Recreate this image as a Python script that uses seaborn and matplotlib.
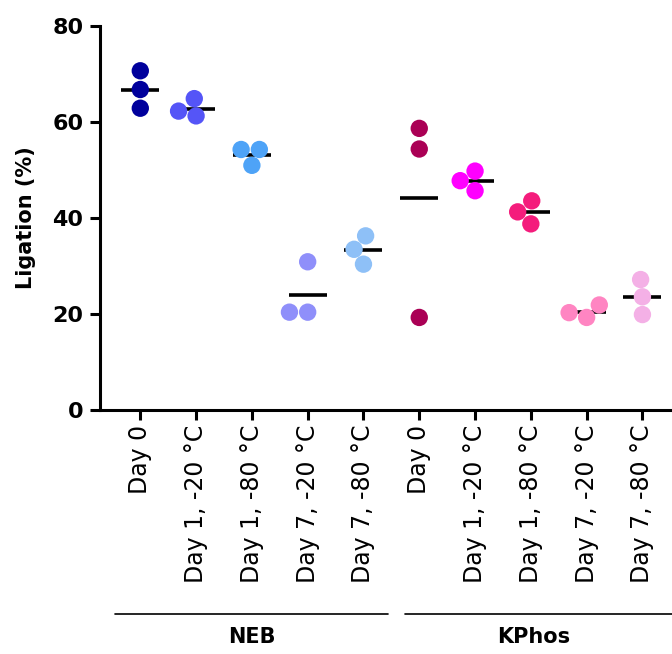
import pandas as pd
import matplotlib
matplotlib.use("Agg")
import matplotlib.pyplot as plt
import matplotlib.transforms as mtransforms
import seaborn as sns

# Conditions on the x axis (same order for both buffers)
conditions = ["Day 0", "Day 1, -20 °C", "Day 1, -80 °C", "Day 7, -20 °C", "Day 7, -80 °C"]
buffers = ["NEB", "KPhos"]

# Ligation (%) replicates
neb_values = [
    [70.7, 66.8, 62.9],
    [64.9, 61.3, 62.3],
    [54.3, 54.3, 51.0],
    [30.9, 20.4, 20.4],
    [36.3, 30.4, 33.5],
]
kphos_values = [
    [58.7, 54.4, 19.3],
    [49.8, 45.7, 47.8],
    [43.6, 38.8, 41.3],
    [21.9, 19.3, 20.3],
    [27.2, 23.6, 19.9],
]

neb_colors = ["#00009c", "#5555f7", "#4ea3f7", "#8f8ffa", "#8ec0f7"]
kphos_colors = ["#aa0055", "#ff00ff", "#f41c7c", "#ff85c2", "#f4b0e6"]

# Build long-form table
rows = []
for buf, vals in zip(buffers, [neb_values, kphos_values]):
    for cond, reps in zip(conditions, vals):
        for v in reps:
            rows.append({"group": f"{buf}|{cond}", "buffer": buf, "cond": cond, "value": v})
df = pd.DataFrame(rows)
order = [f"{b}|{c}" for b in buffers for c in conditions]
palette = dict(zip(order, neb_colors + kphos_colors))

sns.set_style("ticks")
plt.rcParams["font.family"] = ["DejaVu Sans"]
plt.rcParams.update({"text.color": "black", "axes.labelcolor": "black",
                     "xtick.color": "black", "ytick.color": "black",
                     "axes.edgecolor": "black"})

fig = plt.figure(figsize=(6.72, 6.54), dpi=100)
ax = fig.add_axes([0.149, 0.373, 0.851, 0.587])

# mean lines
sns.pointplot(data=df, x="group", y="value", order=order, estimator="mean",
              errorbar=None, color="black", marker="_", markersize=27,
              markeredgewidth=2.6, linestyle="none", ax=ax, zorder=2)

# replicate points
sns.swarmplot(data=df, x="group", y="value", order=order, hue="group",
              palette=palette, size=12.5, linewidth=0, legend=False,
              ax=ax, zorder=3)

ax.set_xlim(-0.72, 9.53)
ax.set_ylim(0, 80)
ax.set_yticks([0, 20, 40, 60, 80])
ax.set_xticks(range(len(order)))
ax.set_xticklabels([c for b in buffers for c in conditions], rotation=90, fontsize=17)
ax.tick_params(axis="y", labelsize=16, width=2.2, length=7, pad=5)
ax.tick_params(axis="x", width=2.2, length=7)
for lab in ax.get_yticklabels():
    lab.set_fontweight("bold")
ax.set_xlabel("")
ax.set_ylabel("Ligation (%)", fontsize=15, fontweight="bold", labelpad=12)

for side in ["top", "right"]:
    ax.spines[side].set_visible(False)
for side in ["left", "bottom"]:
    ax.spines[side].set_linewidth(2.2)

# group brackets under the tick labels
trans = mtransforms.blended_transform_factory(ax.transData, ax.transAxes)
spans = [(-0.45, 4.44), (4.75, 9.7)]
label_x = [2.0, 7.05]
for buf, (x0, x1), lx in zip(buffers, spans, label_x):
    ax.plot([x0, x1], [-0.531, -0.531], color="black", lw=1.2,
            transform=trans, clip_on=False)
    ax.text(lx, -0.59, buf, transform=trans, ha="center", va="center",
            fontsize=15, fontweight="bold")

fig.savefig("out.png", dpi=100)
